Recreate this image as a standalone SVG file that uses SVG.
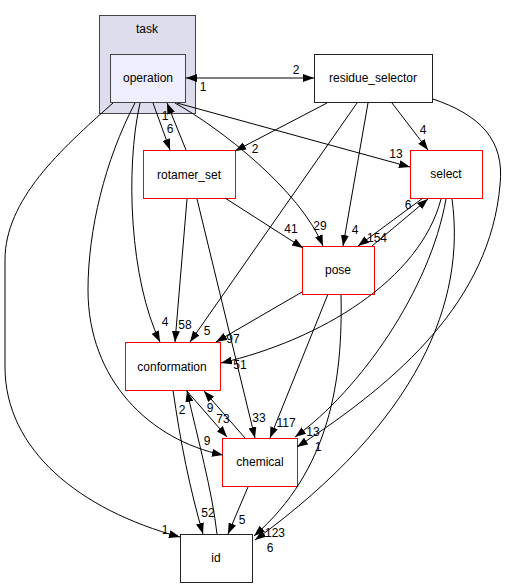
<svg xmlns="http://www.w3.org/2000/svg" width="506" height="588" viewBox="0 0 506 588">
<style>
text{font-family:"Liberation Sans",Arial,sans-serif;font-size:12px;fill:#000}
.n text{text-anchor:middle}
.lb{text-anchor:middle}
.e path{fill:none;stroke:#000;stroke-width:1;marker-end:url(#ah)}
.red{fill:#fff;stroke:#ff0000;stroke-width:1}
.blk{fill:#fff;stroke:#222;stroke-width:1}
</style>
<defs>
<marker id="ah" viewBox="0 0 11 8" refX="11" refY="4" markerWidth="11" markerHeight="8" markerUnits="userSpaceOnUse" orient="auto-start-reverse">
<path d="M0,0 L11,4 L0,8 Z" fill="#000"/>
</marker>
</defs>
<rect width="506" height="588" fill="#fff"/>
<g id="cluster_task">
<rect x="99.5" y="15.5" width="96" height="98" fill="#ddddee" stroke="#444"/>
<text x="147" y="33" text-anchor="middle">task</text>
</g>
<g id="node_operation" class="n">
<rect x="110.5" y="54.5" width="75" height="48" fill="#eeeeff" stroke="#444"/>
<text x="148" y="82">operation</text>
</g>
<g id="node_residue_selector" class="n">
<rect x="314.5" y="54.5" width="118" height="48" class="blk"/>
<text x="373" y="82">residue_selector</text>
</g>
<g id="node_rotamer_set" class="n">
<rect x="143.5" y="150.5" width="92" height="48" class="red"/>
<text x="189" y="179">rotamer_set</text>
</g>
<g id="node_select" class="n">
<rect x="410.5" y="150.5" width="72" height="48" class="red"/>
<text x="446" y="178">select</text>
</g>
<g id="node_pose" class="n">
<rect x="302.5" y="246.5" width="72" height="48" class="red"/>
<text x="338" y="274">pose</text>
</g>
<g id="node_conformation" class="n">
<rect x="125.5" y="342.5" width="95" height="48" class="red"/>
<text x="172" y="371">conformation</text>
</g>
<g id="node_chemical" class="n">
<rect x="222.5" y="438.5" width="75" height="48" class="red"/>
<text x="260" y="466">chemical</text>
</g>
<g id="node_id" class="n">
<rect x="180.5" y="534.5" width="72" height="48" class="blk"/>
<text x="216" y="562">id</text>
</g>
<g id="connectors" class="e">
<path d="M186,78 L314,78" marker-start="url(#ah)"/>
<path d="M153,103 L170,150"/>
<path d="M186,150 L167,103"/>
<path d="M175,103 C220,128 300,190 323,246"/>
<path d="M177,103 L410,167"/>
<path d="M140,103 C125,170 130,280 160,342"/>
<path d="M135,103 C105,160 88,230 88,290 C88,380 150,440 223,455"/>
<path d="M113,103 C60,150 5,200 5,260 L5,367 C5,450 80,510 180,537"/>
<path d="M327,103 L235,151"/>
<path d="M392,103 L428,150"/>
<path d="M368,103 L343,246"/>
<path d="M357,103 L190,342"/>
<path d="M433,99 C480,115 505,140 500,185 C490,300 400,380 297,447"/>
<path d="M225,198 L303,248"/>
<path d="M187,199 L175,342"/>
<path d="M197,199 L255,438"/>
<path d="M302,292 L216,342"/>
<path d="M328,294 L270,438"/>
<path d="M341,294 C343,380 330,470 254,536"/>
<path d="M452,199 C466,300 420,420 255,540"/>
<path d="M441,199 C420,280 320,340 221,363"/>
<path d="M446,199 C430,290 360,390 295,437"/>
<path d="M423,198 L358,246"/>
<path d="M372,246 L428,199"/>
<path d="M186,390 L227,437"/>
<path d="M245,438 L204,391"/>
<path d="M173,390 C180,440 190,490 203,534"/>
<path d="M217,534 C212,490 198,440 187,391"/>
<path d="M248,487 L228,534"/>
</g>
<g id="labels">
<text class="lb" x="296" y="74">2</text>
<text class="lb" x="203" y="91">1</text>
<text class="lb" x="165" y="120">1</text>
<text class="lb" x="170" y="133">6</text>
<text class="lb" x="320" y="230">29</text>
<text class="lb" x="396" y="158">13</text>
<text class="lb" x="165" y="326">4</text>
<text class="lb" x="207" y="445">9</text>
<text class="lb" x="165" y="534">1</text>
<text class="lb" x="255" y="153">2</text>
<text class="lb" x="423" y="134">4</text>
<text class="lb" x="355" y="234">4</text>
<text class="lb" x="207" y="335">5</text>
<text class="lb" x="318" y="451">1</text>
<text class="lb" x="291" y="233">41</text>
<text class="lb" x="185" y="329">58</text>
<text class="lb" x="259" y="422">33</text>
<text class="lb" x="233" y="343">97</text>
<text class="lb" x="286" y="427">117</text>
<text class="lb" x="275" y="537">123</text>
<text class="lb" x="270" y="552">6</text>
<text class="lb" x="408" y="209">6</text>
<text class="lb" x="377" y="242">154</text>
<text class="lb" x="240" y="369">51</text>
<text class="lb" x="313" y="436">13</text>
<text class="lb" x="223" y="423">73</text>
<text class="lb" x="210" y="412">9</text>
<text class="lb" x="182" y="414">2</text>
<text class="lb" x="208" y="517">52</text>
<text class="lb" x="242" y="524">5</text>
</g>
</svg>
